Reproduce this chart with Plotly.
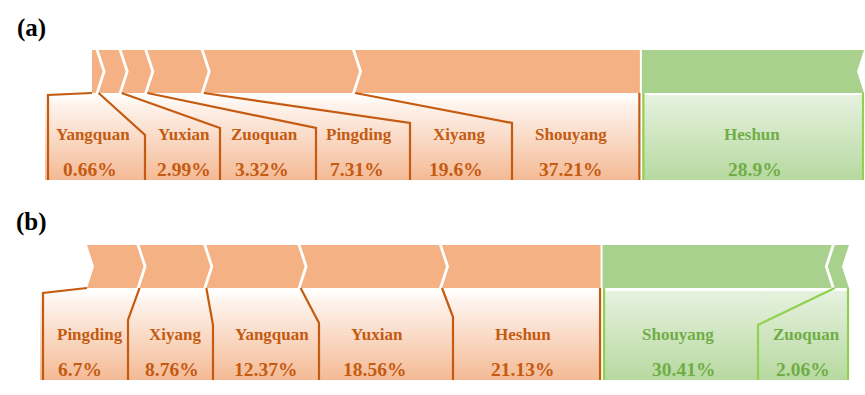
import plotly.graph_objects as go

W, H = 865, 395

# ---------------- data ----------------
a_names = ["Yangquan", "Yuxian", "Zuoquan", "Pingding", "Xiyang", "Shouyang", "Heshun"]
a_values = [0.66, 2.99, 3.32, 7.31, 19.6, 37.21, 28.9]
a_groups = ["orange", "orange", "orange", "orange", "orange", "orange", "green"]

b_names = ["Pingding", "Xiyang", "Yangquan", "Yuxian", "Heshun", "Shouyang", "Zuoquan"]
b_values = [6.7, 8.76, 12.37, 18.56, 21.13, 30.41, 2.06]
b_groups = ["orange", "orange", "orange", "orange", "orange", "green", "green"]

# ---------------- style ----------------
FONT = "Liberation Serif"
COL = {
    "orange": dict(band="#F4B183", line="#C55A11", text="#C55A11",
                   scale=[[0, "#FFFFFF"], [0.12, "#FEF3EC"], [1, "#F4BA95"]]),
    "green": dict(band="#A9D18E", line="#92D050", text="#70AD47",
                  scale=[[0, "#E6F2DF"], [1, "#B7D9A0"]]),
}
LW = 2.2
NOTCH_PX = 7
GAP_PX = 3

# ---------------- layout constants (pixels) ----------------
panels = [
    dict(tag="(a)", tag_y=28, names=a_names, values=a_values, groups=a_groups,
         bar_start=92, bar_end=864, band=(50, 93), box=(95, 180),
         name_y=134, pct_y=169, first_notch=False,
         bounds=[48, 145, 220, 316, 410, 512], joints=[95, 135, 128, 128, 123, 123],
         gbounds=[], gjoints=[], box_left=45,
         name_x=[93, 184, 264, 359, 459, 571, 752],
         pct_x=[90, 184, 262, 357, 456, 570, 755]),
    dict(tag="(b)", tag_y=222, names=b_names, values=b_values, groups=b_groups,
         bar_start=87, bar_end=849, band=(245, 288), box=(291, 380),
         name_y=334, pct_y=369, first_notch=True,
         bounds=[43, 128, 213, 319, 453], joints=[293, 320, 325, 323, 317],
         gbounds=[758], gjoints=[325], box_left=40,
         name_x=[90, 175, 272, 377, 523, 678, 806],
         pct_x=[80, 172, 265, 374, 522, 683, 803]),
]

fig = go.Figure()
axis_names = ["x", "x2"]
annotations = []

for p, ax in zip(panels, axis_names):
    vals = p["values"]
    total = sum(vals)
    scale = (p["bar_end"] - p["bar_start"]) / total  # px per percent

    def u(px, p=p, scale=scale):
        return (px - p["bar_start"]) / scale

    d = NOTCH_PX / scale
    g = GAP_PX / scale
    top, bot = p["band"]
    mid = (top + bot) / 2
    btop, bbot = p["box"]

    cum = [0.0]
    for v in vals:
        cum.append(cum[-1] + v)

    groups = p["groups"]
    n_or = groups.count("orange")
    junction = cum[n_or]

    # ---- gradient label boxes ----
    for grp, x0, x1 in [("orange", u(p["box_left"]), junction - 2 / scale),
                        ("green", junction + 2 / scale, cum[-1])]:
        fig.add_trace(go.Scatter(
            x=[x0, x1, x1, x0, x0], y=[btop, btop, bbot, bbot, btop],
            xaxis=ax, yaxis="y", mode="lines", line=dict(width=0),
            fill="toself",
            fillgradient=dict(type="vertical", colorscale=COL[grp]["scale"],
                              start=btop, stop=bbot),
            hoverinfo="skip"))

    # ---- chevrons ----
    lefts = []
    for i, (v, grp) in enumerate(zip(vals, groups)):
        x0, x1 = cum[i], cum[i + 1]
        if grp == "orange":
            first = i == 0
            last = i == n_or - 1
            left = x0 if first else x0 + g / 2
            right = x1 - 1 / scale if last else x1 - g / 2
            xs = [left, right]
            ys = [top, top]
            if not last:
                xs += [right + d]
                ys += [mid]
            xs += [right, left]
            ys += [bot, bot]
            if (not first) or p["first_notch"]:
                xs += [left + d]
                ys += [mid]
        else:
            first = i == n_or
            last = i == len(vals) - 1
            left = x0 + 1 / scale if first else x0 + g / 2
            right = x1 if last else x1 - g / 2
            xs = [left, right, right - d, right, left]
            ys = [top, top, mid, bot, bot]
            if not first:
                xs += [left - d]
                ys += [mid]
        xs.append(xs[0])
        ys.append(ys[0])
        lefts.append(left)
        fig.add_trace(go.Scatter(
            x=xs, y=ys, xaxis=ax, yaxis="y", mode="lines", line=dict(width=0),
            fill="toself", fillcolor=COL[grp]["band"], hoverinfo="skip"))

    # ---- connector lines ----
    for i in range(n_or):
        bx = u(p["bounds"][i])
        fig.add_trace(go.Scatter(
            x=[lefts[i], bx, bx], y=[bot, p["joints"][i], bbot],
            xaxis=ax, yaxis="y", mode="lines",
            line=dict(color=COL["orange"]["line"], width=LW), hoverinfo="skip"))
    for j, (gb, gj) in enumerate(zip(p["gbounds"], p["gjoints"])):
        i = n_or + 1 + j
        bx = u(gb)
        fig.add_trace(go.Scatter(
            x=[lefts[i], bx, bx], y=[bot, gj, bbot],
            xaxis=ax, yaxis="y", mode="lines",
            line=dict(color=COL["green"]["line"], width=LW), hoverinfo="skip"))
    for x, grp in [(junction - 1.5 / scale, "orange"),
                   (junction + 2.5 / scale, "green"),
                   (cum[-1] - 1 / scale, "green")]:
        fig.add_trace(go.Scatter(
            x=[x, x], y=[bot, bbot], xaxis=ax, yaxis="y", mode="lines",
            line=dict(color=COL[grp]["line"], width=LW), hoverinfo="skip"))

    # ---- texts ----
    xref = ax
    for name, v, grp, nx, px_ in zip(p["names"], vals, groups, p["name_x"], p["pct_x"]):
        annotations.append(dict(
            x=u(nx), y=p["name_y"], xref=xref, yref="y", text=name, showarrow=False,
            font=dict(family=FONT, size=17, color=COL[grp]["text"], weight="bold"),
            xanchor="center", yanchor="middle"))
        annotations.append(dict(
            x=u(px_), y=p["pct_y"], xref=xref, yref="y", text=f"{v}%", showarrow=False,
            font=dict(family=FONT, size=19.5, color=COL[grp]["text"], weight="bold"),
            xanchor="center", yanchor="middle"))
    annotations.append(dict(
        x=31 / W, y=1 - p["tag_y"] / H, xref="paper", yref="paper", text=p["tag"],
        showarrow=False, xanchor="center", yanchor="middle",
        font=dict(family=FONT, size=25, color="black", weight="bold")))

    rng = [u(0), u(W)]
    key = "xaxis" if ax == "x" else "xaxis2"
    axis_cfg = dict(range=rng, visible=False, domain=[0, 1], anchor="y", fixedrange=True)
    if ax == "x2":
        axis_cfg["overlaying"] = "x"
    fig.layout[key] = axis_cfg

fig.update_layout(
    width=W, height=H,
    margin=dict(l=0, r=0, t=0, b=0),
    paper_bgcolor="white", plot_bgcolor="white",
    showlegend=False,
    yaxis=dict(range=[H, 0], visible=False, fixedrange=True),
    annotations=annotations,
)

fig.write_html(
    "out.html",
    config={"displayModeBar": False},
    post_script="document.body.style.margin='0';document.body.style.overflow='hidden';",
)
